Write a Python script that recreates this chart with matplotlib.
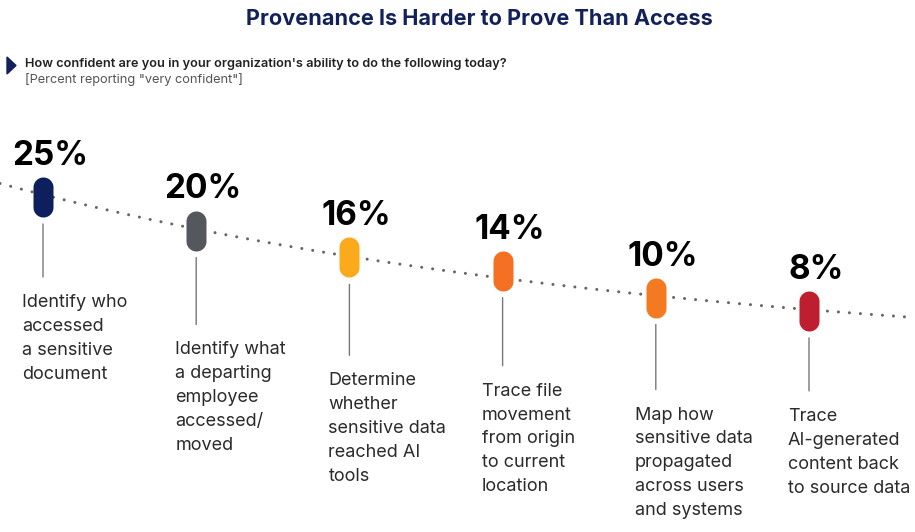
import numpy as np
import matplotlib
matplotlib.use("Agg")
import matplotlib.pyplot as plt
from matplotlib.path import Path
from matplotlib.patches import Polygon

# data
labels = [
    "Identify who\naccessed\na sensitive\ndocument",
    "Identify what\na departing\nemployee\naccessed/\nmoved",
    "Determine\nwhether\nsensitive data\nreached AI\ntools",
    "Trace file\nmovement\nfrom origin\nto current\nlocation",
    "Map how\nsensitive data\npropagated\nacross users\nand systems",
    "Trace\nAI-generated\ncontent back\nto source data",
]
values = [25, 20, 16, 14, 10, 8]
colors = ["#0d1f5c", "#54575c", "#fbaa1c", "#f47022", "#f47a22", "#be1e2d"]

# layout (pixels)
drops = [80, 94, 98, 95, 92, 80]   # connector end below pill centre
PX = 0.72                           # points per pixel at dpi 100
W, H = 915, 532
X0, STEP = 43, 153.2                # first pill x, spacing
Y_REF, PX_PER_PCT = 197, 6.7        # pixel row of 25%, pixels per percent

plt.rcParams["font.family"] = ["Inter", "DejaVu Sans"]

fig = plt.figure(figsize=(W / 100, H / 100), dpi=100)
ax = fig.add_axes([0, 0, 1, 1])
ax.set_xlim(-X0 / STEP, (W - X0) / STEP)
ax.set_ylim(25 - (H - Y_REF) / PX_PER_PCT, 25 + Y_REF / PX_PER_PCT)
ax.axis("off")

x = np.arange(len(values))

# exponential trend line, dotted
k, b = np.polyfit(x, np.log(values), 1)
xs = np.linspace(*ax.get_xlim(), 200)
ax.plot(xs, np.exp(b + k * xs), color="#666666", lw=2.2,
        linestyle=(0, (0.01, 3.6)), dash_capstyle="round", zorder=1)

# pill marker
t = np.linspace(0, np.pi, 30)
top = np.column_stack([0.5 * np.cos(t), 0.5 + 0.5 * np.sin(t)])
bot = np.column_stack([-0.5 * np.cos(t), -0.5 - 0.5 * np.sin(t)])
pill = Path(np.vstack([top, bot, top[:1]]), closed=True)

for i, (v, c, lab, d) in enumerate(zip(values, colors, labels, drops)):
    ax.plot(i, v, marker=pill, markersize=40 * PX, color=c,
            markeredgewidth=0, zorder=3)
    ax.annotate(f"{v}%", xy=(i, v), xytext=(7 * PX, 32 * PX),
                textcoords="offset points", ha="center", va="baseline",
                fontsize=24, fontweight="bold", color="#000000")
    ax.annotate("", xy=(i, v), xytext=(0, -d * PX), textcoords="offset points",
                arrowprops=dict(arrowstyle="-", color="#777777", lw=1,
                                shrinkA=0, shrinkB=27 * PX))
    ax.annotate(lab, xy=(i, v), xytext=(-21 * PX, -(d + 17) * PX),
                textcoords="offset points", ha="left", va="top",
                fontsize=13, color="#2b2b2b", linespacing=1.53)

# title and question
fig.text(479 / W, 1 - 19 / H, "Provenance Is Harder to Prove Than Access",
         ha="center", va="center", fontsize=15.6, fontweight="bold", color="#13215a")
fig.patches.append(Polygon([(7 / W, 1 - 57 / H), (7 / W, 1 - 74 / H), (16 / W, 1 - 65.5 / H)],
                           closed=True, color="#13215a", transform=fig.transFigure))
fig.text(25 / W, 1 - 64 / H,
         "How confident are you in your organization's ability to do the following today?",
         ha="left", va="center", fontsize=9.2, fontweight="semibold", color="#222222")
fig.text(25 / W, 1 - 79 / H, '[Percent reporting "very confident"]',
         ha="left", va="center", fontsize=9.2, color="#555555")

fig.savefig("out.png", dpi=100)
